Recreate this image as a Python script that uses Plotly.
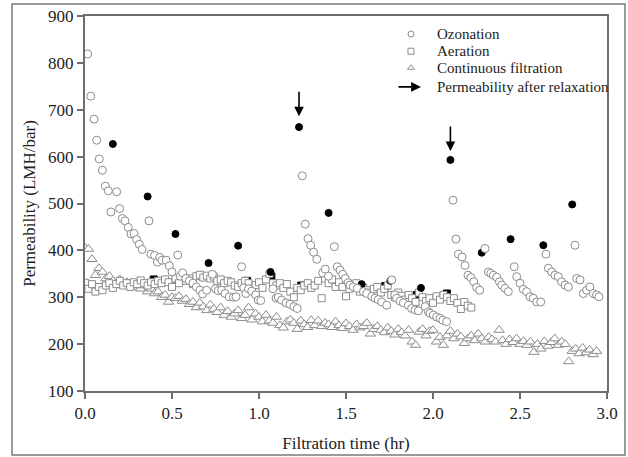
import plotly.graph_objects as go

# ---------------- data ----------------
ozone_x = [0.015, 0.033, 0.052, 0.067, 0.082, 0.100, 0.117, 0.134, 0.149,
           0.182, 0.199, 0.215, 0.230, 0.249, 0.264, 0.282, 0.297, 0.312, 0.328,
           0.368, 0.379, 0.400, 0.416, 0.430, 0.443, 0.466, 0.485, 0.500,
           0.533, 0.548, 0.561, 0.580, 0.600, 0.620, 0.640, 0.660, 0.676, 0.699,
           0.732, 0.750, 0.766, 0.785, 0.805, 0.829, 0.853, 0.868,
           0.900, 0.912, 0.925, 0.940, 0.958, 0.981, 0.996, 1.010,
           1.080, 1.098, 1.111, 1.130, 1.155, 1.178, 1.201, 1.220,
           1.249, 1.266, 1.282, 1.297, 1.314, 1.332, 1.366, 1.381, 1.399,
           1.433, 1.450, 1.466, 1.481, 1.496, 1.513, 1.523, 1.542, 1.565,
           1.600, 1.619, 1.648, 1.667, 1.685, 1.705, 1.734,
           1.763, 1.780, 1.791, 1.810, 1.830, 1.858, 1.877, 1.897, 1.916,
           1.955, 1.973, 1.983, 2.002, 2.021, 2.040, 2.056, 2.078,
           2.115, 2.132, 2.146, 2.167, 2.184, 2.201, 2.218, 2.234, 2.251, 2.268,
           2.299, 2.318, 2.332, 2.347, 2.366, 2.382, 2.395, 2.414, 2.433,
           2.467, 2.481, 2.500, 2.519, 2.538, 2.557, 2.576, 2.596, 2.619,
           2.649, 2.663, 2.682, 2.701, 2.720, 2.739, 2.759, 2.778,
           2.816, 2.826, 2.845, 2.864, 2.883, 2.902, 2.921, 2.940, 2.954]
ozone_y = [819, 729, 680, 635, 595, 571, 537, 527, 482,
           525, 489, 468, 463, 449, 435, 436, 423, 413, 402,
           463, 392, 389, 375, 385, 379, 379, 367, 354,
           390, 345, 352, 340, 335, 330, 322, 315, 307, 315,
           349, 318, 314, 315, 308, 301, 300, 301,
           365, 320, 308, 318, 313, 305, 294, 293,
           318, 298, 300, 294, 288, 285, 280, 276,
           559, 456, 425, 411, 396, 381, 352, 360, 345,
           408, 365, 358, 349, 340, 331, 326, 322, 319,
           312, 308, 302, 298, 295, 290, 283,
           337, 305, 298, 292, 288, 283, 276, 273, 271,
           280, 269, 266, 262, 258, 255, 251, 248,
           507, 424, 392, 386, 368, 347, 342, 333, 321, 315,
           404, 354, 351, 347, 343, 333, 326, 319, 312,
           365, 344, 330, 317, 312, 301, 298, 290, 290,
           392, 362, 354, 347, 344, 333, 326, 322,
           411, 340, 337, 308, 315, 322, 308, 305, 301]

relax_x = [0.16, 0.36, 0.52, 0.71, 0.88, 1.066, 1.23, 1.40, 1.59, 1.755,
           1.931, 2.10, 2.28, 2.446, 2.634, 2.80]
relax_y = [627, 515, 435, 373, 410, 354, 663, 480, 328, 335,
           320, 593, 395, 424, 411, 498]

aer_relax_x = [0.395, 0.534, 0.931, 1.071, 1.243, 1.416, 1.582, 1.726, 1.908, 2.080]
aer_relax_y = [338, 333, 335, 344, 325, 332, 325, 324, 305, 308]

aer_x = [0.00, 0.02, 0.04, 0.06, 0.08, 0.10, 0.12, 0.14, 0.16, 0.18,
         0.20, 0.22, 0.24, 0.26, 0.28, 0.30, 0.32, 0.34, 0.36, 0.38,
         0.40, 0.42, 0.44, 0.46, 0.48, 0.50, 0.52, 0.54, 0.56, 0.58,
         0.60, 0.62, 0.64, 0.66, 0.68, 0.70, 0.72, 0.74, 0.76, 0.78,
         0.80, 0.82, 0.84, 0.86, 0.88, 0.90, 0.92, 0.94, 0.96, 0.98,
         1.00, 1.02, 1.04, 1.06, 1.08, 1.10, 1.12, 1.14, 1.16, 1.18,
         1.20, 1.22, 1.24, 1.26, 1.28, 1.30, 1.32, 1.34, 1.36, 1.38,
         1.40, 1.42, 1.44, 1.46, 1.48, 1.50, 1.52, 1.54, 1.56, 1.58,
         1.60, 1.62, 1.64, 1.66, 1.68, 1.70, 1.72, 1.74, 1.76, 1.78,
         1.80, 1.82, 1.84, 1.86, 1.88, 1.90, 1.92, 1.94, 1.96, 1.98,
         2.00, 2.02, 2.04, 2.06, 2.08, 2.10, 2.12, 2.14, 2.16, 2.18,
         2.20, 2.22]
aer_y = [331, 318, 328, 312, 322, 315, 325, 330, 320, 328,
         335, 325, 330, 322, 332, 328, 336, 330, 325, 332,
         328, 335, 330, 338, 332, 322, 340, 330, 345, 335,
         340, 328, 345, 348, 342, 346, 340, 344, 335, 338,
         330, 335, 332, 325, 322, 330, 335, 330, 318, 326,
         332, 320, 338, 350, 330, 325, 330, 320, 328, 312,
         300, 320, 315, 325, 330, 320, 325, 335, 298, 340,
         330, 338, 322, 332, 322, 302, 318, 325, 330, 312,
         320, 315, 310, 318, 322, 310, 318, 325, 305, 300,
         310, 303, 295, 305, 298, 290, 310, 300, 292, 298,
         288, 302, 295, 305, 300, 292, 298, 288, 275, 290,
         282, 278]

cont_x = [0.00, 0.02, 0.04, 0.06, 0.08, 0.10, 0.12, 0.14, 0.16, 0.18,
          0.20, 0.22, 0.24, 0.26, 0.28, 0.30, 0.32, 0.34, 0.36, 0.38,
          0.40, 0.42, 0.44, 0.46, 0.48, 0.50, 0.52, 0.54, 0.56, 0.58,
          0.60, 0.62, 0.64, 0.66, 0.68, 0.70, 0.72, 0.74, 0.76, 0.78,
          0.80, 0.82, 0.84, 0.86, 0.88, 0.90, 0.92, 0.94, 0.96, 0.98,
          1.00, 1.02, 1.04, 1.06, 1.08, 1.10, 1.12, 1.14, 1.16, 1.18,
          1.20, 1.22, 1.24, 1.26, 1.28, 1.30, 1.32, 1.34, 1.36, 1.38,
          1.40, 1.42, 1.44, 1.46, 1.48, 1.50, 1.52, 1.54, 1.56, 1.58,
          1.60, 1.62, 1.64, 1.66, 1.68, 1.70, 1.72, 1.74, 1.76, 1.78,
          1.80, 1.82, 1.84, 1.86, 1.88, 1.90, 1.92, 1.94, 1.96, 1.98,
          2.00, 2.02, 2.04, 2.06, 2.08, 2.10, 2.12, 2.14, 2.16, 2.18,
          2.20, 2.22, 2.24, 2.26, 2.28, 2.30, 2.32, 2.34, 2.36, 2.38,
          2.40, 2.42, 2.44, 2.46, 2.48, 2.50, 2.52, 2.54, 2.56, 2.58,
          2.60, 2.62, 2.64, 2.66, 2.68, 2.70, 2.72, 2.74, 2.76, 2.78,
          2.80, 2.82, 2.84, 2.86, 2.88, 2.90, 2.92, 2.94]
cont_y = [405, 403, 381, 347, 362, 354, 340, 345, 335, 330,
          338, 325, 332, 328, 322, 330, 318, 325, 312, 318,
          308, 312, 300, 305, 290, 300, 298, 302, 292, 296,
          285, 290, 278, 288, 280, 272, 284, 275, 268, 278,
          262, 270, 258, 265, 272, 255, 262, 278, 252, 265,
          258, 248, 262, 250, 245, 258, 240, 235, 248, 252,
          245, 232, 250, 242, 236, 251, 240, 250, 238, 245,
          242, 236, 248, 240, 234, 244, 238, 230, 242, 235,
          238, 245, 222, 232, 238, 230, 225, 235, 228, 220,
          232, 225, 218, 230, 205, 198, 226, 232, 218, 228,
          230, 205, 215, 198, 218, 228, 212, 222, 216, 202,
          212, 218, 208, 222, 212, 205, 215, 210, 205, 230,
          208, 200, 210, 204, 212, 200, 206, 198, 205, 183,
          200, 190, 206, 196, 204, 212, 198, 205, 200, 163,
          185, 190, 180, 192, 182, 188, 178, 185]

arrow_x = [1.23, 2.10]
arrow_tip_y = [686, 612]

x_ticks = [0.0, 0.5, 1.0, 1.5, 2.0, 2.5, 3.0]
y_ticks = [100, 200, 300, 400, 500, 600, 700, 800, 900]

legend_labels = ["Ozonation", "Aeration", "Continuous filtration",
                 "Permeability after relaxation"]
legend_symbols = ["circle", "square", "triangle-up"]

# ---------------- figure ----------------
GRAY = "#8c8c8c"
AX = "#6e6e6e"
FONT = "Liberation Serif"

# legend layout in plot-area fractions (overlay axis x2/y2 spans 0..1)
LEG_SYM_X = 0.6245
LEG_TXT_X = 0.6705
LEG_ROWS_Y = [0.952, 0.906, 0.862, 0.811]

fig = go.Figure()

fig.add_trace(go.Scatter(
    x=cont_x, y=cont_y, mode="markers", name=legend_labels[2],
    marker=dict(symbol="triangle-up", size=9, color="white",
                line=dict(color=GRAY, width=1))))

fig.add_trace(go.Scatter(
    x=aer_relax_x, y=aer_relax_y, mode="markers", name="Aeration (relaxed)",
    marker=dict(symbol="square", size=7, color="black",
                line=dict(color="black", width=1))))

fig.add_trace(go.Scatter(
    x=aer_x, y=aer_y, mode="markers", name=legend_labels[1],
    marker=dict(symbol="square", size=7, color="white",
                line=dict(color=GRAY, width=1))))

fig.add_trace(go.Scatter(
    x=relax_x, y=relax_y, mode="markers", name=legend_labels[3],
    marker=dict(symbol="circle", size=7, color="black",
                line=dict(color="black", width=1))))

fig.add_trace(go.Scatter(
    x=ozone_x, y=ozone_y, mode="markers", name=legend_labels[0],
    marker=dict(symbol="circle", size=8, color="white",
                line=dict(color=GRAY, width=1))))

# manual legend symbols on the overlay axis
fig.add_trace(go.Scatter(
    x=[LEG_SYM_X] * 3, y=LEG_ROWS_Y[:3], mode="markers",
    xaxis="x2", yaxis="y2", hoverinfo="skip",
    marker=dict(symbol=legend_symbols, size=6, color="white",
                line=dict(color=GRAY, width=1))))

for lbl, yy in zip(legend_labels, LEG_ROWS_Y):
    fig.add_annotation(x=LEG_TXT_X, y=yy, xref="x2", yref="y2",
                       text=lbl, showarrow=False, xanchor="left",
                       yanchor="middle",
                       font=dict(family=FONT, size=15, color="#222222"))

# legend arrow
fig.add_annotation(x=0.6437, y=LEG_ROWS_Y[3], xref="x2", yref="y2",
                   ax=0.5977, ay=LEG_ROWS_Y[3], axref="x2", ayref="y2",
                   text="", showarrow=True, arrowhead=2, arrowsize=1.1,
                   arrowwidth=1.8, arrowcolor="black")

for ax_, ay_ in zip(arrow_x, arrow_tip_y):
    fig.add_annotation(x=ax_, y=ay_, xref="x", yref="y", text="",
                       showarrow=True, arrowhead=2, arrowsize=1.2,
                       arrowwidth=1.6, arrowcolor="black",
                       ax=0, ay=-26, axref="pixel", ayref="pixel")

# outer frame
fig.add_shape(type="rect", xref="paper", yref="paper",
              x0=-0.1398, x1=1.0345, y0=-0.1707, y1=1.032,
              line=dict(color="#7a7a7a", width=1.5), layer="below")

fig.update_layout(
    width=628, height=457,
    margin=dict(l=85, r=21, t=16, b=66, autoexpand=False),
    paper_bgcolor="white", plot_bgcolor="white",
    font=dict(family=FONT, size=17, color="#222222"),
    showlegend=False,
    xaxis=dict(range=[0, 3], tickvals=x_ticks,
               ticktext=[f"{v:.1f}" for v in x_ticks],
               tickfont=dict(family=FONT, size=17),
               showgrid=False, zeroline=False, automargin=False,
               showline=True, linecolor=AX, linewidth=2, mirror=True,
               ticks="outside", ticklen=6, tickcolor=AX, tickwidth=1.5,
               title=dict(text="Filtration time (hr)",
                          font=dict(family=FONT, size=17), standoff=15)),
    yaxis=dict(range=[100, 900], tickvals=y_ticks,
               tickfont=dict(family=FONT, size=17),
               showgrid=False, zeroline=False, automargin=False,
               showline=True, linecolor=AX, linewidth=2, mirror=True,
               ticks="outside", ticklen=6, tickcolor=AX, tickwidth=1.5,
               title=dict(text="Permeability (LMH/bar)",
                          font=dict(family=FONT, size=17), standoff=8)),
    xaxis2=dict(overlaying="x", range=[0, 1], visible=False, automargin=False),
    yaxis2=dict(overlaying="y", range=[0, 1], visible=False, automargin=False),
)

fig.write_html(
    "out.html",
    config={"displayModeBar": False},
    post_script="document.body.style.margin='0';document.body.style.overflow='hidden';",
)
